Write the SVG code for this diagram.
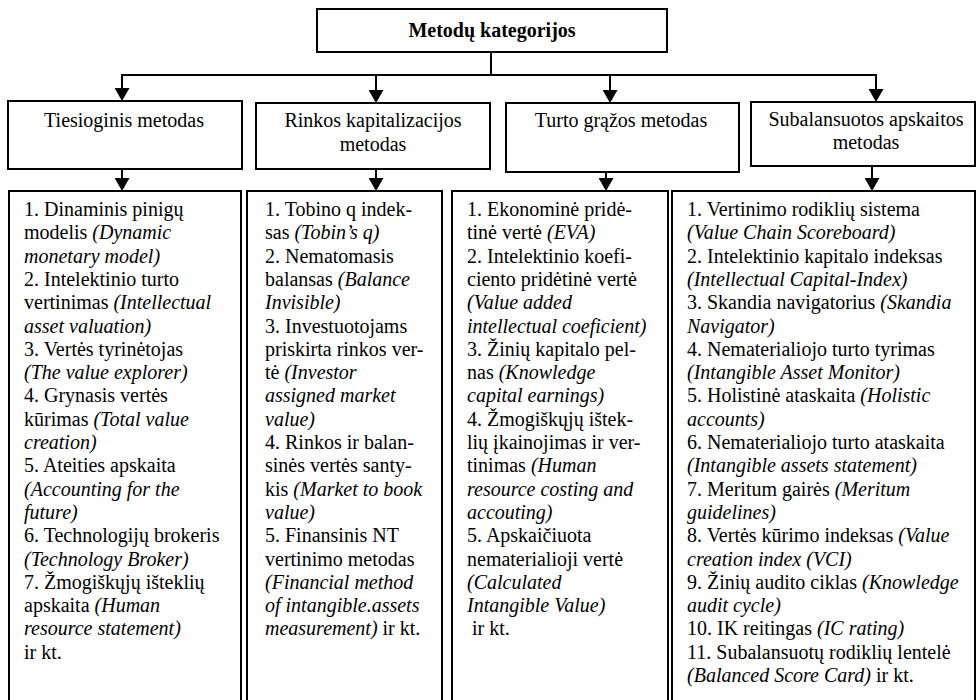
<svg xmlns="http://www.w3.org/2000/svg" width="980" height="700" viewBox="0 0 980 700">
<style>
.t{font-size:20px;font-weight:bold;text-anchor:middle;}
.c{font-size:20px;text-anchor:middle;}
.l{font-size:20px;}
.i{font-style:italic;}
.box{fill:#fff;stroke:#000;stroke-width:2;}
.ln{fill:none;stroke:#000;stroke-width:2;}
</style>
<defs>
<marker id="ah" viewBox="0 0 13 15" markerWidth="13" markerHeight="15" refX="1" refY="7.5" orient="auto" markerUnits="userSpaceOnUse">
<path d="M0,0 L13,7.5 L0,15 Z" fill="#000"/>
</marker>
</defs>
<rect width="980" height="700" fill="#fff"/>
<g id="connectors">
<polyline class="ln" points="491,52 491,75"/>
<line class="ln" x1="121" y1="75" x2="877" y2="75"/>
<line class="ln" x1="122" y1="75" x2="122" y2="89" marker-end="url(#ah)"/>
<line class="ln" x1="376" y1="75" x2="376" y2="91" marker-end="url(#ah)"/>
<line class="ln" x1="610" y1="75" x2="610" y2="91" marker-end="url(#ah)"/>
<line class="ln" x1="876" y1="75" x2="876" y2="90" marker-end="url(#ah)"/>
<line class="ln" x1="122" y1="169" x2="122" y2="179" marker-end="url(#ah)"/>
<line class="ln" x1="376" y1="169" x2="376" y2="179" marker-end="url(#ah)"/>
<line class="ln" x1="606" y1="172" x2="606" y2="179" marker-end="url(#ah)"/>
<line class="ln" x1="872" y1="166" x2="872" y2="179" marker-end="url(#ah)"/>
</g>
<g font-family="Liberation Serif, Times New Roman, serif" fill="#000">
<g id="top">
<rect class="box" x="317" y="9" width="350" height="43"/>
<text class="t" x="492" y="37">Metodų kategorijos</text>
</g>
<g id="cat1">
<rect class="box" x="8" y="101" width="234" height="68"/>
<text class="c" x="124" y="127">Tiesioginis metodas</text>
</g>
<g id="cat2">
<rect class="box" x="256" y="103" width="234" height="66"/>
<text class="c" x="373" y="127">Rinkos kapitalizacijos</text>
<text class="c" x="373" y="151">metodas</text>
</g>
<g id="cat3">
<rect class="box" x="506" y="103" width="233" height="69"/>
<text class="c" x="621" y="127">Turto grąžos metodas</text>
</g>
<g id="cat4">
<rect class="box" x="751" y="102" width="224" height="64"/>
<text class="c" x="866" y="126">Subalansuotos apskaitos</text>
<text class="c" x="866" y="149">metodas</text>
</g>
<g id="list1">
<rect class="box" x="9" y="191" width="232" height="520"/>
<text class="l">
<tspan x="24" y="216">1. Dinaminis pinigų</tspan>
<tspan x="24" y="239.3">modelis <tspan class="i">(Dynamic</tspan></tspan>
<tspan x="24" y="262.6" class="i">monetary model)</tspan>
<tspan x="24" y="285.9">2. Intelektinio turto</tspan>
<tspan x="24" y="309.2">vertinimas <tspan class="i">(Intellectual</tspan></tspan>
<tspan x="24" y="332.5" class="i">asset valuation)</tspan>
<tspan x="24" y="355.8">3. Vertės tyrinėtojas</tspan>
<tspan x="24" y="379.1" class="i">(The value explorer)</tspan>
<tspan x="24" y="402.4">4. Grynasis vertės</tspan>
<tspan x="24" y="425.7">kūrimas <tspan class="i">(Total value</tspan></tspan>
<tspan x="24" y="449" class="i">creation)</tspan>
<tspan x="24" y="472.3">5. Ateities apskaita</tspan>
<tspan x="24" y="495.6" class="i">(Accounting for the</tspan>
<tspan x="24" y="518.9" class="i">future)</tspan>
<tspan x="24" y="542.2">6. Technologijų brokeris</tspan>
<tspan x="24" y="565.5" class="i">(Technology Broker)</tspan>
<tspan x="24" y="588.8">7. Žmogiškųjų išteklių</tspan>
<tspan x="24" y="612.1">apskaita <tspan class="i">(Human</tspan></tspan>
<tspan x="24" y="635.4" class="i">resource statement)</tspan>
<tspan x="24" y="658.7">ir kt.</tspan>
</text>
</g>
<g id="list2">
<rect class="box" x="247" y="191" width="195" height="520"/>
<text class="l">
<tspan x="265" y="216">1. Tobino q indek-</tspan>
<tspan x="265" y="239.3">sas <tspan class="i">(Tobin’s q)</tspan></tspan>
<tspan x="265" y="262.6">2. Nematomasis</tspan>
<tspan x="265" y="285.9">balansas <tspan class="i">(Balance</tspan></tspan>
<tspan x="265" y="309.2" class="i">Invisible)</tspan>
<tspan x="265" y="332.5">3. Investuotojams</tspan>
<tspan x="265" y="355.8">priskirta rinkos ver-</tspan>
<tspan x="265" y="379.1">tė <tspan class="i">(Investor</tspan></tspan>
<tspan x="265" y="402.4" class="i">assigned market</tspan>
<tspan x="265" y="425.7" class="i">value)</tspan>
<tspan x="265" y="449">4. Rinkos ir balan-</tspan>
<tspan x="265" y="472.3">sinės vertės santy-</tspan>
<tspan x="265" y="495.6">kis <tspan class="i">(Market to book</tspan></tspan>
<tspan x="265" y="518.9" class="i">value)</tspan>
<tspan x="265" y="542.2">5. Finansinis NT</tspan>
<tspan x="265" y="565.5">vertinimo metodas</tspan>
<tspan x="265" y="588.8" class="i">(Financial method</tspan>
<tspan x="265" y="612.1" class="i">of intangible.assets</tspan>
<tspan x="265" y="635.4"><tspan class="i">measurement)</tspan> ir kt.</tspan>
</text>
</g>
<g id="list3">
<rect class="box" x="452" y="191" width="216" height="520"/>
<text class="l">
<tspan x="467" y="216">1. Ekonominė pridė-</tspan>
<tspan x="467" y="239.3">tinė vertė <tspan class="i">(EVA)</tspan></tspan>
<tspan x="467" y="262.6">2. Intelektinio koefi-</tspan>
<tspan x="467" y="285.9">ciento pridėtinė vertė</tspan>
<tspan x="467" y="309.2" class="i">(Value added</tspan>
<tspan x="467" y="332.5" class="i">intellectual coeficient)</tspan>
<tspan x="467" y="355.8">3. Žinių kapitalo pel-</tspan>
<tspan x="467" y="379.1">nas <tspan class="i">(Knowledge</tspan></tspan>
<tspan x="467" y="402.4" class="i">capital earnings)</tspan>
<tspan x="467" y="425.7">4. Žmogiškųjų ištek-</tspan>
<tspan x="467" y="449">lių įkainojimas ir ver-</tspan>
<tspan x="467" y="472.3">tinimas <tspan class="i">(Human</tspan></tspan>
<tspan x="467" y="495.6" class="i">resource costing and</tspan>
<tspan x="467" y="518.9" class="i">accouting)</tspan>
<tspan x="467" y="542.2">5. Apskaičiuota</tspan>
<tspan x="467" y="565.5">nematerialioji vertė</tspan>
<tspan x="467" y="588.8" class="i">(Calculated</tspan>
<tspan x="467" y="612.1" class="i">Intangible Value)</tspan>
<tspan x="472" y="635.4">ir kt.</tspan>
</text>
</g>
<g id="list4">
<rect class="box" x="672" y="191" width="303" height="520"/>
<text class="l">
<tspan x="687" y="216">1. Vertinimo rodiklių sistema</tspan>
<tspan x="687" y="239.3" class="i">(Value Chain Scoreboard)</tspan>
<tspan x="687" y="262.6">2. Intelektinio kapitalo indeksas</tspan>
<tspan x="687" y="285.9" class="i">(Intellectual Capital-Index)</tspan>
<tspan x="687" y="309.2">3. Skandia navigatorius <tspan class="i">(Skandia</tspan></tspan>
<tspan x="687" y="332.5" class="i">Navigator)</tspan>
<tspan x="687" y="355.8">4. Nematerialiojo turto tyrimas</tspan>
<tspan x="687" y="379.1" class="i">(Intangible Asset Monitor)</tspan>
<tspan x="687" y="402.4">5. Holistinė ataskaita <tspan class="i">(Holistic</tspan></tspan>
<tspan x="687" y="425.7" class="i">accounts)</tspan>
<tspan x="687" y="449">6. Nematerialiojo turto ataskaita</tspan>
<tspan x="687" y="472.3" class="i">(Intangible assets statement)</tspan>
<tspan x="687" y="495.6">7. Meritum gairės <tspan class="i">(Meritum</tspan></tspan>
<tspan x="687" y="518.9" class="i">guidelines)</tspan>
<tspan x="687" y="542.2">8. Vertės kūrimo indeksas <tspan class="i">(Value</tspan></tspan>
<tspan x="687" y="565.5" class="i">creation index (VCI)</tspan>
<tspan x="687" y="588.8">9. Žinių audito ciklas <tspan class="i">(Knowledge</tspan></tspan>
<tspan x="687" y="612.1" class="i">audit cycle)</tspan>
<tspan x="687" y="635.4">10. IK reitingas <tspan class="i">(IC rating)</tspan></tspan>
<tspan x="687" y="658.7">11. Subalansuotų rodiklių lentelė</tspan>
<tspan x="687" y="682"><tspan class="i">(Balanced Score Card)</tspan> ir kt.</tspan>
</text>
</g>
</g>
</svg>
